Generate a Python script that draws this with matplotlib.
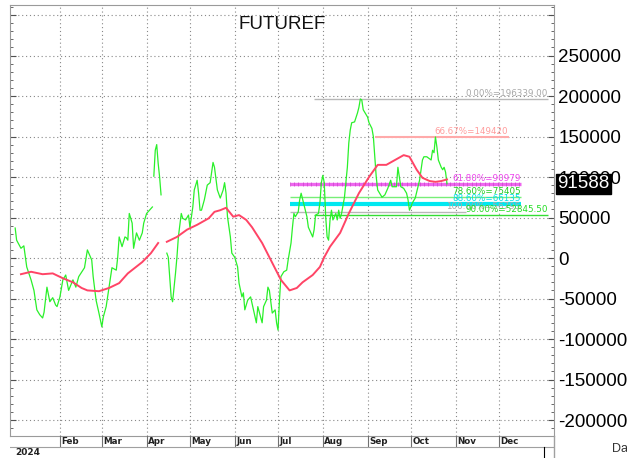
import matplotlib
matplotlib.use("Agg")
import matplotlib.pyplot as plt
import numpy as np
import pandas as pd

plt.rcParams['font.family'] = ['Liberation Sans', 'DejaVu Sans']

# --- data ---
green_dates = ["2024-01-01", "2024-01-02", "2024-01-05", "2024-01-07", "2024-01-09", "2024-01-12",
               "2024-01-14", "2024-01-16", "2024-01-18", "2024-01-20", "2024-01-21", "2024-01-23",
               "2024-01-25", "2024-01-27", "2024-01-29", "2024-01-30", "2024-02-01", "2024-02-03",
               "2024-02-05", "2024-02-07", "2024-02-10", "2024-02-12", "2024-02-14", "2024-02-18",
               "2024-02-20", "2024-02-23", "2024-02-24", "2024-02-26", "2024-02-28", "2024-03-01",
               "2024-03-02", "2024-03-04", "2024-03-06", "2024-03-08", "2024-03-11", "2024-03-12",
               "2024-03-13", "2024-03-15", "2024-03-17", "2024-03-18", "2024-03-19", "2024-03-20",
               "2024-03-22", "2024-03-23", "2024-03-25", "2024-03-27", "2024-03-29", "2024-03-30",
               "2024-04-01", "2024-04-03", "2024-04-05", "2024-04-05",
               "2024-04-06", "2024-04-07", "2024-04-08", "2024-04-09", "2024-04-10", "2024-04-11",
               "2024-04-11",
               "2024-04-15", "2024-04-16", "2024-04-17", "2024-04-18", "2024-04-19", "2024-04-21",
               "2024-04-22", "2024-04-23", "2024-04-25", "2024-04-26", "2024-04-28", "2024-04-30",
               "2024-05-01", "2024-05-03", "2024-05-04", "2024-05-06", "2024-05-07", "2024-05-08",
               "2024-05-09", "2024-05-11", "2024-05-13", "2024-05-15", "2024-05-17", "2024-05-18",
               "2024-05-20", "2024-05-22", "2024-05-24", "2024-05-25", "2024-05-26", "2024-05-27",
               "2024-05-29", "2024-05-30", "2024-06-01", "2024-06-03", "2024-06-04", "2024-06-06",
               "2024-06-07", "2024-06-08", "2024-06-10", "2024-06-12", "2024-06-14", "2024-06-16",
               "2024-06-17", "2024-06-20", "2024-06-21", "2024-06-23", "2024-06-24", "2024-06-25",
               "2024-06-27", "2024-06-29", "2024-06-30", "2024-07-01", "2024-07-02", "2024-07-03",
               "2024-07-05", "2024-07-07", "2024-07-08", "2024-07-10", "2024-07-11", "2024-07-12",
               "2024-07-13", "2024-07-15", "2024-07-16", "2024-07-17", "2024-07-21", "2024-07-22",
               "2024-07-25", "2024-07-26", "2024-07-27", "2024-07-29", "2024-07-30", "2024-07-31",
               "2024-08-01", "2024-08-02", "2024-08-03", "2024-08-04", "2024-08-05", "2024-08-06",
               "2024-08-07", "2024-08-08", "2024-08-10", "2024-08-11", "2024-08-12", "2024-08-13",
               "2024-08-14", "2024-08-15", "2024-08-16", "2024-08-18", "2024-08-19", "2024-08-20",
               "2024-08-21", "2024-08-23", "2024-08-25", "2024-08-26", "2024-08-27", "2024-08-28",
               "2024-08-29", "2024-09-01", "2024-09-02", "2024-09-04", "2024-09-05", "2024-09-06",
               "2024-09-07", "2024-09-08", "2024-09-11", "2024-09-13", "2024-09-15", "2024-09-17",
               "2024-09-18", "2024-09-21", "2024-09-22", "2024-09-24", "2024-09-26", "2024-09-28",
               "2024-09-29", "2024-09-30", "2024-10-02", "2024-10-04", "2024-10-07", "2024-10-09",
               "2024-10-10", "2024-10-12", "2024-10-15", "2024-10-16", "2024-10-17", "2024-10-18",
               "2024-10-19", "2024-10-20", "2024-10-22", "2024-10-23", "2024-10-24", "2024-10-25",
               "2024-10-26"]
green_vals = [37000, 22000, 12000, 15000, -11000, -27000,
              -40000, -64000, -70000, -74000, -67000, -36000,
              -54000, -49000, -58000, -60000, -48000, -27000,
              -21000, -40000, -27000, -36000, -23000, -12000,
              10000, -2500, -23000, -52000, -68000, -85000,
              -73000, -60000, -36000, -12000, -15000, 1000,
              26000, 14000, 26000, 25000, 22000, 55000,
              43000, 12000, 31000, 22000, 31000, 43000,
              55000, 59000, 63000, None,
              101000, 133000, 140000, 117000, 100000, 78000,
              None,
              6000, 1000, -23000, -48000, -54000, -19000,
              1000, 26000, 55000, 49000, 47000, 53000,
              38000, 63000, 84000, 96000, 80000, 59000,
              59000, 72000, 90000, 93000, 118000, 112000,
              84000, 74000, 84000, 93000, 80000, 51000,
              26000, 6000, 1000, -11000, -31000, -48000,
              -43000, -64000, -52000, -48000, -64000, -80000,
              -60000, -80000, -60000, -52000, -36000, -40000,
              -68000, -64000, -80000, -89000, -52000, -23000,
              -17000, -15000, -2500, 18500, 38000, 55000,
              51000, 57000, 72000, 80000, 51000, 38000,
              26000, 35000, 53000, 55000, 68000, 93000,
              102000, 93000, 51000, 26000, 22000, 47000,
              59000, 47000, 55000, 47000, 59000, 49000,
              55000, 65000, 75000, 112000, 142000, 158000,
              167000, 168000, 179000, 186000, 196339, 195000,
              183000, 174000, 167000, 160000, 150000, 125000,
              100000, 84000, 75000, 78000, 86000, 96000,
              88000, 88000, 112000, 88000, 86000, 80000,
              72000, 59000, 68000, 74000, 96000, 121000,
              125000, 125000, 121000, 133000, 130000, 149420,
              137000, 121000, 112000, 109000, 112000, 106000,
              91588]

ma_dates = ["2024-01-05", "2024-01-12", "2024-01-20", "2024-01-27", "2024-02-03", "2024-02-10",
            "2024-02-16", "2024-02-20", "2024-02-28", "2024-03-06", "2024-03-13", "2024-03-19",
            "2024-03-29", "2024-04-04", "2024-04-09", "2024-04-09",
            "2024-04-15", "2024-04-22", "2024-04-29", "2024-05-06", "2024-05-14", "2024-05-18",
            "2024-05-22", "2024-05-26", "2024-05-31", "2024-06-04", "2024-06-09", "2024-06-13",
            "2024-06-20", "2024-06-27", "2024-07-03", "2024-07-09", "2024-07-14", "2024-07-18",
            "2024-07-25", "2024-07-30", "2024-08-02", "2024-08-06", "2024-08-13", "2024-08-19",
            "2024-08-26", "2024-09-02", "2024-09-08", "2024-09-14", "2024-09-20", "2024-09-26",
            "2024-09-30", "2024-10-05", "2024-10-09", "2024-10-14", "2024-10-18", "2024-10-22",
            "2024-10-26"]
ma_vals = [-20000, -17000, -20000, -19000, -25000, -30000,
           -37000, -40000, -41000, -37000, -31000, -19000,
           -5000, 6000, 18500, None,
           20000, 26000, 35000, 41000, 49000, 57000,
           59000, 62000, 51000, 53000, 47000, 38000,
           18500, -6000, -27000, -40000, -37000, -30000,
           -21000, -11000, 1000, 14000, 31000, 55000,
           80000, 100000, 115000, 115000, 121000, 127000,
           125000, 109000, 99000, 95000, 94000, 95000,
           97000]

fib_labels = ["0.00%=196339.00", "66.67%=149420", "61.80%=90979", "78.60%=75405",
              "88.60%=66135", "100.00%=56795", "90.00%=52845.50"]
fib_values = [196339, 149420, 90979, 75405, 66135, 56795, 52845.5]
fib_start = ["2024-07-26", "2024-09-06", "2024-07-09", "2024-07-09", "2024-07-09", "2024-07-09", "2024-07-26"]
fib_end = ["2025-01-04", "2024-12-08", "2024-12-16", "2024-12-16", "2024-12-16", "2024-11-08", "2025-01-04"]
fib_text_end = ["2025-01-04", "2024-12-07", "2024-12-16", "2024-12-16", "2024-12-16", "2024-12-16", "2025-01-04"]
fib_line_colors = ["#b8b8b8", "#ffaaaa", "#ee66ee", "#77ee77", "#00e8f0", "#b8b8b8", "#33dd33"]
fib_text_colors = ["#a8a8a8", "#ff9c9c", "#ee44ee", "#22cc22", "#00dde8", "#aaaaaa", "#22dd22"]
fib_widths = [1.0, 1.5, 2.4, 1.0, 3.0, 1.0, 1.0]

months = ["Feb", "Mar", "Apr", "May", "Jun", "Jul", "Aug", "Sep", "Oct", "Nov", "Dec"]
last_value = 91588

# --- figure ---
W, H = 627, 458
fig = plt.figure(figsize=(W / 100, H / 100), dpi=100)
left, right, top, bot = 10, 554, 5, 436
ax = fig.add_axes([left / W, (H - bot) / H, (right - left) / W, (bot - top) / H])

xmin = pd.Timestamp("2023-12-28 10:00")
xmax = pd.Timestamp("2025-01-08 02:00")

gd = pd.to_datetime(green_dates)
gv = np.array([np.nan if v is None else v for v in green_vals], dtype=float)
md = pd.to_datetime(ma_dates)
mv = np.array([np.nan if v is None else v for v in ma_vals], dtype=float)

ax.plot(gd, gv, color="#2af02a", lw=0.9, zorder=3)
ax.plot(md, mv, color="#ff4466", lw=1.4, zorder=4)

for lab, val, s, e, te, lc, tc, lw in zip(fib_labels, fib_values, fib_start, fib_end,
                                           fib_text_end, fib_line_colors, fib_text_colors, fib_widths):
    ax.plot([pd.Timestamp(s), pd.Timestamp(e)], [val, val], color=lc, lw=lw, zorder=2,
            solid_capstyle="butt")
    ax.text(pd.Timestamp(te), val + 1500, lab, color=tc, fontsize=6.3, ha="right", va="bottom",
            family="DejaVu Sans", zorder=5)

# magenta level has small cross marks along it
ms = pd.date_range(fib_start[2], fib_end[2], freq="3D")
ax.plot(ms, np.full(len(ms), fib_values[2]), ls="none", marker="|", ms=3, color="#cc44cc",
        mew=0.5, zorder=2)

ax.set_xlim(xmin, xmax)
ax.set_ylim(-219750, 312350)

month_ticks = pd.date_range("2024-02-01", "2024-12-01", freq="MS")
ax.set_xticks(month_ticks)
ax.tick_params(axis="x", length=0, labelbottom=False)

ax.yaxis.tick_right()
ax.set_yticks(np.arange(-200000, 300001, 50000))
ax.set_yticks(np.arange(-210000, 310001, 10000), minor=True)
ax.set_yticklabels(["-200000", "-150000", "-100000", "-50000", "0", "50000", "100000",
                    "150000", "200000", "250000", "300000"])
ax.tick_params(axis="y", which="both", direction="in", left=True, right=True,
               labelleft=False, labelright=True, color="#505050")
ax.tick_params(axis="y", which="major", length=4, pad=3, labelsize=13.5, labelcolor="black")
ax.tick_params(axis="y", which="minor", length=2.5)
labs = ax.get_yticklabels()
labs[-1].set_visible(False)

ax.grid(True, which="major", color="#888888", ls=(0, (1, 2.5)), lw=0.8)
for sp in ax.spines.values():
    sp.set_color("#9a9a9a")
    sp.set_linewidth(0.8)

ax.text(0.5, 0.975, "FUTUREF", transform=ax.transAxes, fontsize=13.5, ha="center", va="top",
        color="#111111")

# last value box on the price scale
ax.text(1.006, last_value, str(last_value), transform=ax.get_yaxis_transform(), fontsize=13.5,
        color="white", ha="left", va="center", zorder=10, clip_on=False,
        bbox=dict(boxstyle="square,pad=0.08", fc="black", ec="black"))

# --- date strip below the chart ---
sx = fig.add_axes([left / W, 0, (right - left) / W, (H - bot) / H])
sx.set_xlim(xmin, xmax)
sx.set_ylim(0, H - bot)
sx.axis("off")
for m, lab in zip(month_ticks, months):
    sx.plot([m, m], [H - bot, 12], color="#707070", lw=0.8)
    sx.text(m + pd.Timedelta(days=1), 16.5, lab, fontsize=6.3, family="DejaVu Sans",
            fontweight="bold", ha="left", va="center", color="#222222")
sx.plot([xmin, xmax], [11.5, 11.5], color="#a0a0a0", lw=0.8)
sx.plot([xmax, xmax], [0, H - bot], color="#a0a0a0", lw=1.0, clip_on=False)
sx.plot([pd.Timestamp("2025-01-01"), pd.Timestamp("2025-01-01")], [0, 11], color="black", lw=0.8)
sx.text(pd.Timestamp("2024-01-01"), 5.5, "2024", fontsize=6.5, family="DejaVu Sans",
        fontweight="bold", ha="left", va="center", color="#222222")

fig.text(612 / W, 1 - 449 / H, "Date", fontsize=9, color="#333333", ha="left", va="center")

fig.savefig("out.png", dpi=100)
